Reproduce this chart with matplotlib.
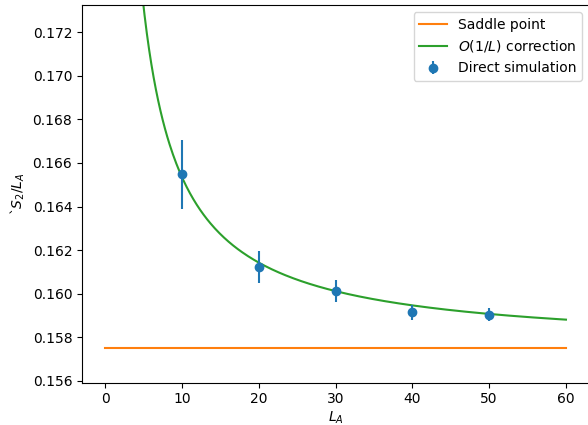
import numpy as np
import matplotlib
matplotlib.use("Agg")
import matplotlib.pyplot as plt

# direct simulation data
L_sim = [10, 20, 30, 40, 50]
S2_sim = [0.16548, 0.16123, 0.16013, 0.15914, 0.15904]
S2_err = [0.00158, 0.00075, 0.00052, 0.00036, 0.00030]

# saddle point value and 1/L correction coefficient
saddle = 0.1575
coef = 0.0786
L_range = [0, 60]

L = np.linspace(1, 60, 400)
corr = saddle + coef / L

fig = plt.figure(figsize=(5.88, 4.25), dpi=100)
ax = fig.add_axes([82 / 588, 42.5 / 425, 507 / 588, 377.5 / 425])

ax.errorbar(L_sim, S2_sim, yerr=S2_err, fmt='o', label="Direct simulation", zorder=3)
ax.plot(L_range, [saddle, saddle], label="Saddle point")
ax.plot(L, corr, label="$O(1/L)$ correction")

ax.set_xlim(-3, 63)
ax.set_ylim(0.99 * saddle, 1.1 * saddle)
ax.set_xlabel("$L_A$", labelpad=2.5)
ax.set_ylabel("`$S_2/L_A$")
ax.legend(loc='upper right')

fig.savefig("out.png", dpi=100)
